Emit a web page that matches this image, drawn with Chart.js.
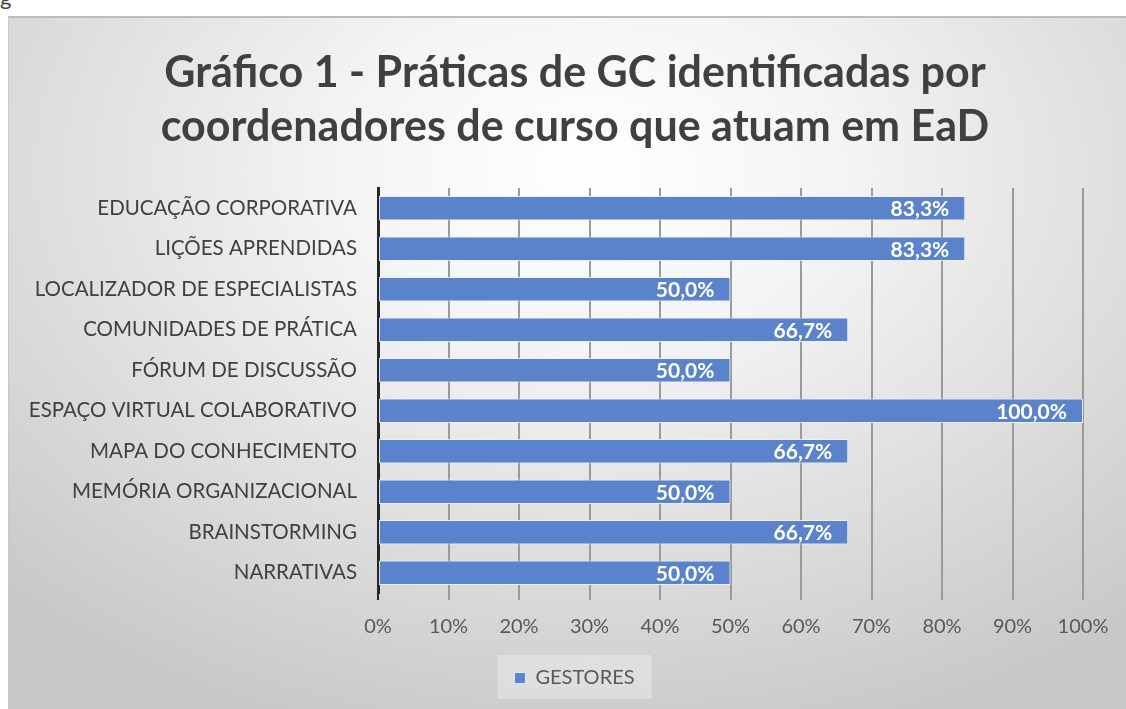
<!DOCTYPE html>
<html>
<head>
<meta charset="utf-8">
<script src="https://cdn.jsdelivr.net/npm/chart.js@4.4.1/dist/chart.umd.min.js"></script>
<style>
html,body{margin:0;padding:0;background:#fff;width:1126px;height:709px;overflow:hidden;}
#corner{position:absolute;left:0;top:-17px;font:22px Lato,sans-serif;color:#404040;}
#box{position:absolute;left:8px;top:16px;width:1118px;height:693px;box-sizing:border-box;border-top:2px solid #bdbdbd;border-left:1px solid #c8c8c8;
  background:radial-gradient(ellipse 75% 85% at 52% 22%,#ffffff 0%,#f4f4f4 30%,#dedede 65%,#c8c8c8 100%);}
#wrap{position:absolute;left:0;top:0;width:1117px;height:691px;}
</style>
</head>
<body>
<div id="corner">g</div>
<div id="box"><div id="wrap"><canvas id="c"></canvas></div></div>
<script>
const categories=['EDUCAÇÃO CORPORATIVA','LIÇÕES APRENDIDAS','LOCALIZADOR DE ESPECIALISTAS','COMUNIDADES DE PRÁTICA','FÓRUM DE DISCUSSÃO','ESPAÇO VIRTUAL COLABORATIVO','MAPA DO CONHECIMENTO','MEMÓRIA ORGANIZACIONAL','BRAINSTORMING','NARRATIVAS'];
const gestores=[83.3,83.3,50.0,66.7,50.0,100.0,66.7,50.0,66.7,50.0];
const seriesName='GESTORES';
const titleLines=['Gráfico 1 - Práticas de GC identificadas por','coordenadores de curso que atuam em EaD'];
const xTicks=[0,10,20,30,40,50,60,70,80,90,100];

const FONT='Lato, "Open Sans", sans-serif';
const BAR='#5a83cb';

// title drawn centred over the whole frame
const titlePlugin={
  id:'titlePlugin',
  afterDraw(chart){
    const ctx=chart.ctx;
    ctx.save();
    ctx.font='bold 43px '+FONT;
    ctx.fillStyle='#404040';
    ctx.textAlign='center';
    ctx.textBaseline='middle';
    titleLines.forEach((t,i)=>ctx.fillText(t,566,55+i*54));
    ctx.restore();
  }
};
// data labels inside bar end
const barLabels={
  id:'barLabels',
  afterDatasetsDraw(chart){
    const ctx=chart.ctx;
    const meta=chart.getDatasetMeta(0);
    ctx.save();
    ctx.font='bold 21px '+FONT;
    ctx.fillStyle='#ffffff';
    ctx.textAlign='right';
    ctx.textBaseline='middle';
    meta.data.forEach((bar,i)=>{
      ctx.fillText(gestores[i].toFixed(1).replace('.',',')+'%',bar.x-16,bar.y+1);
    });
    ctx.restore();
  }
};
// soft panel behind legend
const legendPanel={
  id:'legendPanel',
  beforeDraw(chart){
    const l=chart.legend;
    if(!l)return;
    const ctx=chart.ctx;
    const w=154,h=44;
    const cx=l.left+l.width/2, cy=l.top+l.height/2;
    ctx.save();
    ctx.fillStyle='rgba(255,255,255,0.3)';
    ctx.fillRect(cx-w/2,cy-h/2,w,h);
    ctx.restore();
  }
};

new Chart(document.getElementById('c'),{
  type:'bar',
  data:{labels:categories,datasets:[{label:seriesName,data:gestores,backgroundColor:BAR,borderColor:'rgba(235,240,250,0.9)',borderWidth:1,borderSkipped:false,barPercentage:0.6,categoryPercentage:1}]},
  options:{
    indexAxis:'y',responsive:true,maintainAspectRatio:false,animation:false,
    layout:{padding:{left:14,right:0,top:170,bottom:11}},
    plugins:{
      title:{display:false},
      legend:{position:'bottom',labels:{color:'#595959',font:{family:FONT,size:20},boxWidth:11,boxHeight:11,padding:12}},
      tooltip:{enabled:false}
    },
    scales:{
      y:{
        afterFit(s){s.width=355;},
        grid:{display:false},
        border:{color:'#262626',width:3},
        ticks:{color:'#404040',font:{family:FONT,size:20.5},padding:13}
      },
      yr:{
        position:'right',display:true,
        afterFit(s){s.width=43;},
        grid:{display:false},border:{display:false},
        ticks:{display:false}
      },
      x:{
        min:0,max:100,
        afterBuildTicks(s){s.ticks=xTicks.map(v=>({value:v}));},
        afterFit(s){s.height=63;},
        grid:{color:(c)=>c.index===0?'#262626':'#9a9a9a',lineWidth:2,tickLength:7},
        border:{display:false},
        ticks:{color:'#595959',font:{family:FONT,size:20},padding:15,callback:v=>v+'%'}
      }
    }
  },
  plugins:[titlePlugin,barLabels,legendPanel]
});
</script>
</body>
</html>
